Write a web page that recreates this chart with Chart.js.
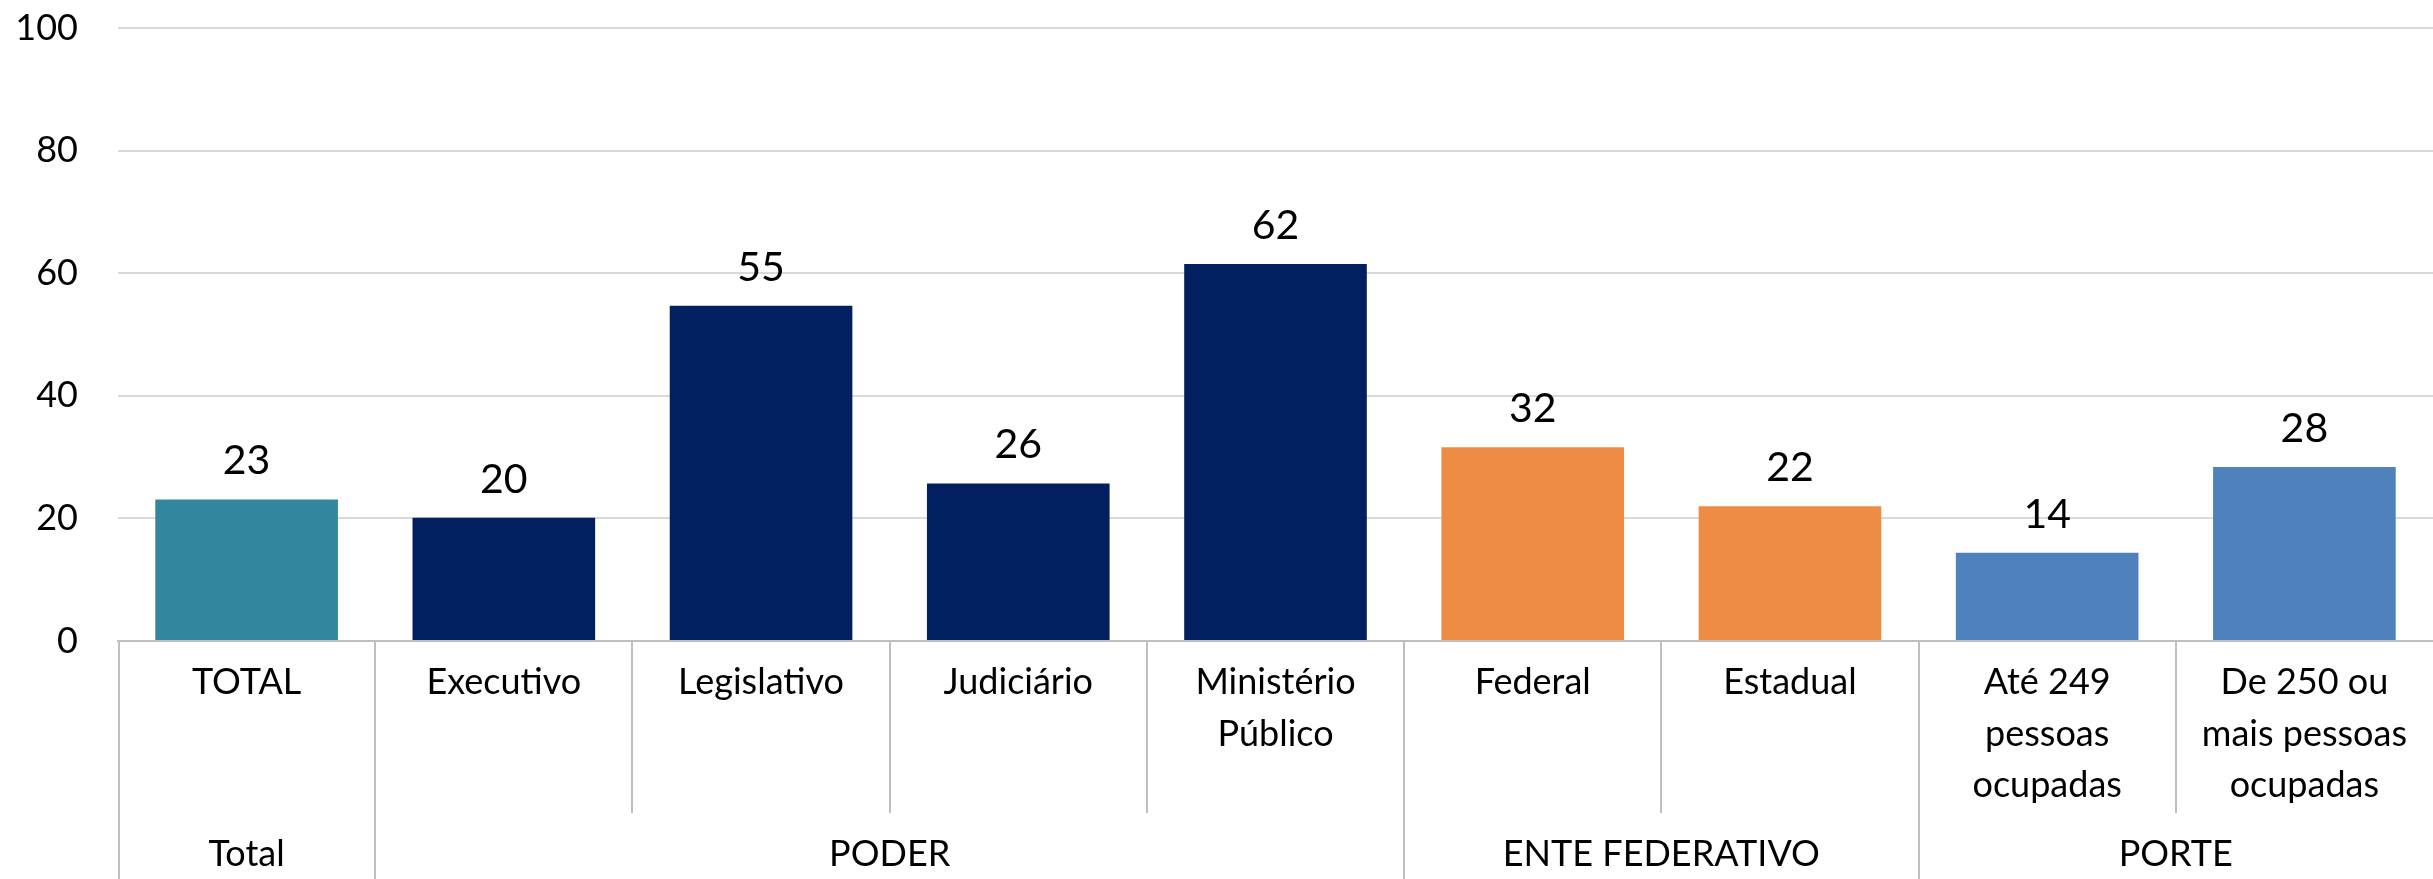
<!DOCTYPE html>
<html>
<head>
<meta charset="utf-8">
<script src="https://cdn.jsdelivr.net/npm/chart.js@4.4.1/dist/chart.umd.min.js"></script>
<style>
  body { margin: 0; background: #fff; }
  #wrap { width: 2433px; height: 879px; position: relative; }
</style>
</head>
<body>
<div id="wrap"><canvas id="myBarChart"></canvas></div>
<script>
const categories = [
  'TOTAL',
  'Executivo',
  'Legislativo',
  'Judiciário',
  ['Ministério', 'Público'],
  'Federal',
  'Estadual',
  ['Até 249', 'pessoas', 'ocupadas'],
  ['De 250 ou', 'mais pessoas', 'ocupadas']
];
const values = [23.1, 20.1, 54.7, 25.7, 61.5, 31.6, 22.0, 14.4, 28.4];
const barColors = ['#32869D', '#022060', '#022060', '#022060', '#022060', '#EE8B45', '#EE8B45', '#4F81BD', '#4F81BD'];

const groupNames = ['Total', 'PODER', 'ENTE FEDERATIVO', 'PORTE'];
const groupSizes = [1, 4, 2, 2];

const yTicks = [0, 20, 40, 60, 80, 100];

const fontFamily = "Lato, 'Open Sans', sans-serif";

// values written above each bar
const barLabels = {
  id: 'barLabels',
  afterDatasetsDraw(chart) {
    const ctx = chart.ctx;
    const meta = chart.getDatasetMeta(0);
    ctx.save();
    ctx.font = '41px ' + fontFamily;
    ctx.fillStyle = '#000';
    ctx.textAlign = 'center';
    ctx.textBaseline = 'alphabetic';
    meta.data.forEach((bar, i) => {
      ctx.fillText(Math.round(values[i]), bar.x, bar.y - 25);
    });
    ctx.restore();
  }
};

// the boxes under the x axis and the group names
const groupAxis = {
  id: 'groupAxis',
  afterDraw(chart) {
    const ctx = chart.ctx;
    const xs = chart.scales.x;
    const bottom = chart.height;
    const axisY = chart.chartArea.bottom;
    const half = (xs.getPixelForValue(1) - xs.getPixelForValue(0)) / 2;

    ctx.save();
    ctx.strokeStyle = '#BFBFBF';
    ctx.lineWidth = 2;

    // index of the last category in each group
    const groupEnds = [];
    let n = 0;
    groupSizes.forEach((s) => { n += s; groupEnds.push(n - 1); });

    // left edge
    ctx.beginPath();
    ctx.moveTo(chart.chartArea.left + 1, axisY);
    ctx.lineTo(chart.chartArea.left + 1, bottom);
    ctx.stroke();

    for (let i = 0; i < categories.length - 1; i++) {
      const x = Math.round(xs.getPixelForValue(i) + half);
      const endY = groupEnds.includes(i) ? bottom : 813;
      ctx.beginPath();
      ctx.moveTo(x, axisY);
      ctx.lineTo(x, endY);
      ctx.stroke();
    }

    ctx.font = '36px ' + fontFamily;
    ctx.fillStyle = '#000';
    ctx.textAlign = 'center';
    ctx.textBaseline = 'middle';
    let start = 0;
    groupNames.forEach((name, g) => {
      const first = start;
      const last = start + groupSizes[g] - 1;
      const cx = (xs.getPixelForValue(first) + xs.getPixelForValue(last)) / 2;
      ctx.fillText(name, cx, 854);
      start += groupSizes[g];
    });
    ctx.restore();
  }
};

const ctx1 = document.getElementById('myBarChart').getContext('2d');
const myBarChart = new Chart(ctx1, {
  type: 'bar',
  data: {
    labels: categories,
    datasets: [
      {
        data: values,
        backgroundColor: barColors,
        borderWidth: 0,
        barPercentage: 0.71,
        categoryPercentage: 1.0
      }
    ]
  },
  options: {
    responsive: true,
    maintainAspectRatio: false,
    animation: false,
    layout: {
      padding: { top: 0, left: 0, right: 0, bottom: 0 }
    },
    plugins: {
      legend: { display: false },
      tooltip: { enabled: false }
    },
    scales: {
      x: {
        offset: true,
        grid: { display: false, drawTicks: false },
        border: { display: true, color: '#BFBFBF', width: 2 },
        ticks: {
          autoSkip: false,
          maxRotation: 0,
          minRotation: 0,
          padding: 16,
          color: '#000',
          font: { family: fontFamily, size: 36, lineHeight: 1.43 }
        },
        afterFit: (scale) => { scale.height = 238; }
      },
      y: {
        min: 0,
        max: 100,
        afterBuildTicks: (scale) => { scale.ticks = yTicks.map((v) => ({ value: v })); },
        grid: { color: '#D9D9D9', lineWidth: 2, drawTicks: false },
        border: { display: false },
        ticks: {
          padding: 40,
          color: '#000',
          font: { family: fontFamily, size: 36 }
        },
        afterFit: (scale) => {
          scale.width = 118;
          // tick padding would otherwise push the top of the plot down
          scale.paddingTop = 28;
          scale.paddingBottom = 0;
        }
      }
    }
  },
  plugins: [barLabels, groupAxis]
});
</script>
</body>
</html>
